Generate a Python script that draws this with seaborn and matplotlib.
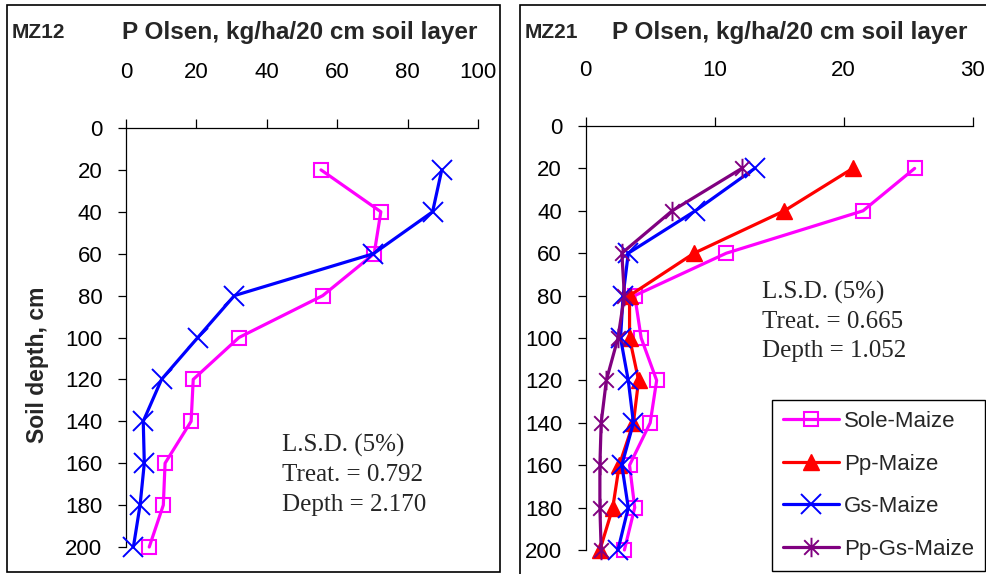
import seaborn as sns
import pandas as pd
import matplotlib.pyplot as plt
from matplotlib.patches import Rectangle
from matplotlib.path import Path

# depths (cm) of the sampled layers
depth = [20, 40, 60, 80, 100, 120, 140, 160, 180, 200]

# MZ12 - P Olsen, kg/ha/20 cm
mz12_sole = [55.4, 72.4, 70.5, 55.9, 32.1, 19.1, 18.5, 11.1, 10.6, 6.6]
mz12_gs = [89.7, 87.1, 70.3, 30.8, 20.4, 10.1, 4.9, 5.2, 4.0, 2.1]

# MZ21 - P Olsen, kg/ha/20 cm
mz21_sole = [25.5, 21.5, 10.9, 3.8, 4.3, 5.5, 5.0, 3.4, 3.8, 3.0]
mz21_pp = [20.7, 15.4, 8.4, 3.4, 3.4, 4.1, 3.7, 2.6, 2.1, 1.1]
mz21_gs = [13.1, 8.5, 3.3, 2.9, 2.7, 3.3, 3.7, 2.8, 3.3, 2.5]
mz21_ppgs = [12.1, 6.7, 2.8, 3.0, 2.5, 1.6, 1.2, 1.1, 1.1, 1.2]

xticks_mz12 = [0, 20, 40, 60, 80, 100]
xticks_mz21 = [0, 10, 20, 30]
yticks = [0, 20, 40, 60, 80, 100, 120, 140, 160, 180, 200]

sns.set_theme(style='white')
plt.rcParams['font.family'] = ['Liberation Sans', 'DejaVu Sans']

# excel-like asterisk marker
star = Path([(0, -1), (0, 1), (-0.75, -0.75), (0.75, 0.75), (-0.75, 0.75), (0.75, -0.75)],
            [Path.MOVETO, Path.LINETO] * 3)

styles = {
    'Sole-Maize': dict(color='#FF00FF', marker='s', markersize=10, markerfacecolor='none',
                       markeredgecolor='#FF00FF', markeredgewidth=1.5),
    'Pp-Maize': dict(color='#FF0000', marker='^', markersize=11, markerfacecolor='#FF0000',
                     markeredgecolor='#FF0000', markeredgewidth=1),
    'Gs-Maize': dict(color='#0000FF', marker='x', markersize=14, markerfacecolor='#0000FF',
                     markeredgecolor='#0000FF', markeredgewidth=1.4),
    'Pp-Gs-Maize': dict(color='#800080', marker=star, markersize=14, markerfacecolor='#800080',
                        markeredgecolor='#800080', markeredgewidth=1.4),
}

df12 = pd.DataFrame({'depth': depth * 2,
                     'P': mz12_sole + mz12_gs,
                     'series': ['Sole-Maize'] * 10 + ['Gs-Maize'] * 10})
df21 = pd.DataFrame({'depth': depth * 4,
                     'P': mz21_sole + mz21_pp + mz21_gs + mz21_ppgs,
                     'series': ['Sole-Maize'] * 10 + ['Pp-Maize'] * 10 + ['Gs-Maize'] * 10 + ['Pp-Gs-Maize'] * 10})

W, H = 986, 574
fig = plt.figure(figsize=(9.86, 5.74), dpi=100)

# outer frames of the two panels
fig.add_artist(Rectangle((7 / W, 1 - 572 / H), 493 / W, 567 / H, transform=fig.transFigure,
                         fill=False, lw=1.2, ec='black'))
fig.add_artist(Rectangle((520 / W, 1 - 590 / H), 500 / W, 585 / H, transform=fig.transFigure,
                         fill=False, lw=1.2, ec='black'))

ax1 = fig.add_axes([126 / W, 27 / H, 352 / W, 419 / H])
ax2 = fig.add_axes([585.7 / W, 24 / H, 387 / W, 424 / H])


def draw(ax, df, names, xmax, xticks):
    for name in names:
        sub = df[df['series'] == name]
        sns.lineplot(data=sub, x='P', y='depth', ax=ax, sort=False, estimator=None,
                     lw=2.3, label=name, clip_on=False, zorder=3, **styles[name])
    if ax.get_legend() is not None:
        ax.get_legend().remove()
    ax.set_xlim(0, xmax)
    ax.set_ylim(200, 0)
    ax.set_xticks(xticks)
    ax.set_yticks(yticks)
    ax.set_xlabel('')
    ax.set_ylabel('')
    ax.xaxis.tick_top()
    for s in ['right', 'bottom']:
        ax.spines[s].set_visible(False)
    for s in ['left', 'top']:
        ax.spines[s].set_color('black')
        ax.spines[s].set_linewidth(0.9)
    ax.tick_params(axis='x', top=True, bottom=False, labeltop=True, labelbottom=False,
                   direction='out', length=6.5, width=0.9, pad=26, labelsize=16, colors='black')
    ax.tick_params(axis='y', left=True, direction='out', length=6, width=0.9, pad=11,
                   labelsize=16, colors='black')
    ax.patch.set_alpha(0)


draw(ax1, df12, ['Sole-Maize', 'Gs-Maize'], 100, xticks_mz12)
draw(ax2, df21, ['Sole-Maize', 'Pp-Maize', 'Gs-Maize', 'Pp-Gs-Maize'], 30, xticks_mz21)

# titles
fig.text(12 / W, 1 - 33 / H, 'MZ12', fontsize=15, fontweight='bold', va='center', ha='left')
fig.text(122 / W, 1 - 33 / H, 'P Olsen, kg/ha/20 cm soil layer', fontsize=17.5,
         fontweight='bold', va='center', ha='left')
fig.text(525 / W, 1 - 33 / H, 'MZ21', fontsize=15, fontweight='bold', va='center', ha='left')
fig.text(612 / W, 1 - 33 / H, 'P Olsen, kg/ha/20 cm soil layer', fontsize=17.5,
         fontweight='bold', va='center', ha='left')
fig.text(38 / W, 1 - 365 / H, 'Soil depth, cm', fontsize=16.5, fontweight='bold',
         rotation=90, va='center', ha='center')

# L.S.D. notes
serif = ['Liberation Serif', 'DejaVu Serif']
for i, line in enumerate(['L.S.D. (5%)', 'Treat. = 0.792', 'Depth = 2.170']):
    fig.text(282 / W, 1 - (445 + 30 * i) / H, line, family=serif, fontsize=18,
             va='center', ha='left')
for i, line in enumerate(['L.S.D. (5%)', 'Treat. = 0.665', 'Depth = 1.052']):
    fig.text(762 / W, 1 - (292 + 29.5 * i) / H, line, family=serif, fontsize=18,
             va='center', ha='left')

handles, labels = ax2.get_legend_handles_labels()
leg = fig.legend(handles, labels, loc='upper left', bbox_to_anchor=(772 / W, 1 - 400 / H),
                 bbox_transform=fig.transFigure, fontsize=16, frameon=True, fancybox=False,
                 framealpha=1, edgecolor='black', handlelength=2.5, handletextpad=0.25,
                 labelspacing=0.97, borderpad=0.5, borderaxespad=0)
leg.get_frame().set_linewidth(1.0)

fig.savefig('out.png', dpi=100)
